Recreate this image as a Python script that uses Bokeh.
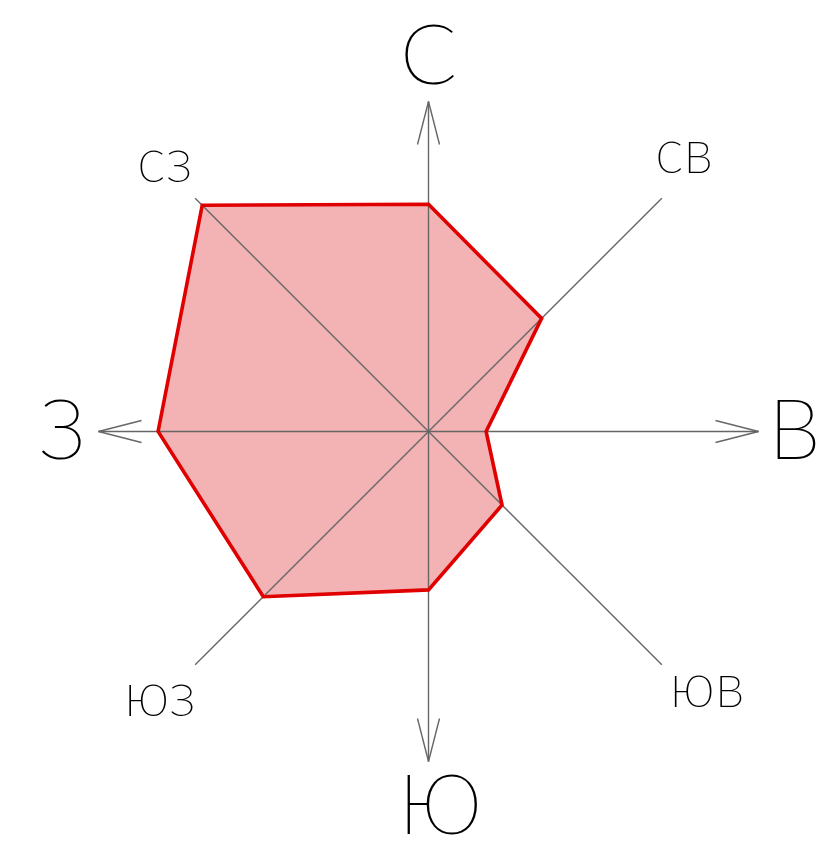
import numpy as np
from bokeh.plotting import figure
from bokeh.models import Range1d, ColumnDataSource
from bokeh.core.properties import value
from bokeh.embed import file_html
from bokeh.resources import INLINE

# ---- data ----
directions = ["N", "NE", "E", "SE", "S", "SW", "W", "NW"]
labels = ["С", "св", "В", "юв", "Ю", "юз", "З", "сз"]
angles_deg = [90, 45, 0, -45, -90, -135, 180, 135]
frequency = [14.2, 10.0, 3.6, 6.5, 9.9, 14.6, 16.9, 20.0]  # %

# ---- layout (pixels -> data units) ----
PX = 1.0 / 16.0           # one screen pixel in data units
W, H = 829, 853
CX, CY = 428, 431         # centre of the rose in canvas pixels
R_AXIS = 330 * PX
HEAD_L = 43 * PX
HEAD_W = 11 * PX
BIG_SIZE, SMALL_SIZE = 84, 61
BIG_H, SMALL_H = 60, 31   # visible letter heights in px
FONT = value("Lato Thin, Lato Hairline, Roboto Thin, Open Sans Light, DejaVu Sans")
# small label nudges (screen px: right, down)
NUDGE = {"св": (-11, -6), "юв": (12, -5), "сз": (3, 3), "юз": (-2, 4), "Ю": (12, 0)}

p = figure(width=W, height=H, output_backend="svg", toolbar_location=None,
           x_range=Range1d(-CX * PX, (W - CX) * PX),
           y_range=Range1d(-(H - CY) * PX, CY * PX),
           min_border=0)
p.axis.visible = False
p.grid.visible = False
p.outline_line_color = None
p.background_fill_color = "white"

ang = np.radians(angles_deg)
ux, uy = np.cos(ang), np.sin(ang)
freq = np.array(frequency)
px_ = freq * ux
py_ = freq * uy

# filled polygon
p.patch(list(px_), list(py_), fill_color="#F3B3B5", fill_alpha=1.0, line_color=None)

# axis spokes
p.segment(x0=[0] * 8, y0=[0] * 8, x1=list(R_AXIS * ux), y1=list(R_AXIS * uy),
          line_color="#666666", line_width=1.4)

# open arrow heads on the four cardinal axes
card = [i for i, a in enumerate(angles_deg) if a % 90 == 0]
hx0, hy0, hx1, hy1 = [], [], [], []
for i in card:
    tx, ty = R_AXIS * ux[i], R_AXIS * uy[i]
    bx, by = (R_AXIS - HEAD_L) * ux[i], (R_AXIS - HEAD_L) * uy[i]
    nx, ny = -uy[i], ux[i]
    for s in (1, -1):
        hx0.append(bx + s * HEAD_W * nx)
        hy0.append(by + s * HEAD_W * ny)
        hx1.append(tx)
        hy1.append(ty)
p.segment(x0=hx0, y0=hy0, x1=hx1, y1=hy1, line_color="#666666", line_width=1.4)

# red outline
p.patch(list(px_), list(py_), fill_color=None, line_color="#E00000", line_width=3.6,
        line_join="miter")

# labels
def nudge(i):
    return NUDGE.get(labels[i], (0, 0))

big = [i for i in card]
small = [i for i in range(8) if i not in card]
r_big = [(366 + 9 * abs(uy[i])) * PX for i in big]
r_small = 377 * PX
src_big = ColumnDataSource(dict(
    x=[r * ux[i] + nudge(i)[0] * PX for r, i in zip(r_big, big)],
    y=[r * uy[i] + (-BIG_H / 2 + 0.415 * BIG_SIZE - nudge(i)[1]) * PX
       for r, i in zip(r_big, big)],
    t=[labels[i] for i in big]))
src_small = ColumnDataSource(dict(
    x=[r_small * ux[i] + nudge(i)[0] * PX for i in small],
    y=[r_small * uy[i] + (-SMALL_H / 2 + 0.415 * SMALL_SIZE - nudge(i)[1]) * PX
       for i in small],
    t=[labels[i] for i in small]))
p.text(x="x", y="y", text="t", source=src_big, text_align="center",
       text_baseline="alphabetic", text_font=FONT,
       text_font_size=f"{BIG_SIZE}px", text_color="black")
p.text(x="x", y="y", text="t", source=src_small, text_align="center",
       text_baseline="alphabetic", text_font=FONT,
       text_font_size=f"{SMALL_SIZE}px", text_color="black")

open("out.html", "w").write(file_html(p, INLINE))
